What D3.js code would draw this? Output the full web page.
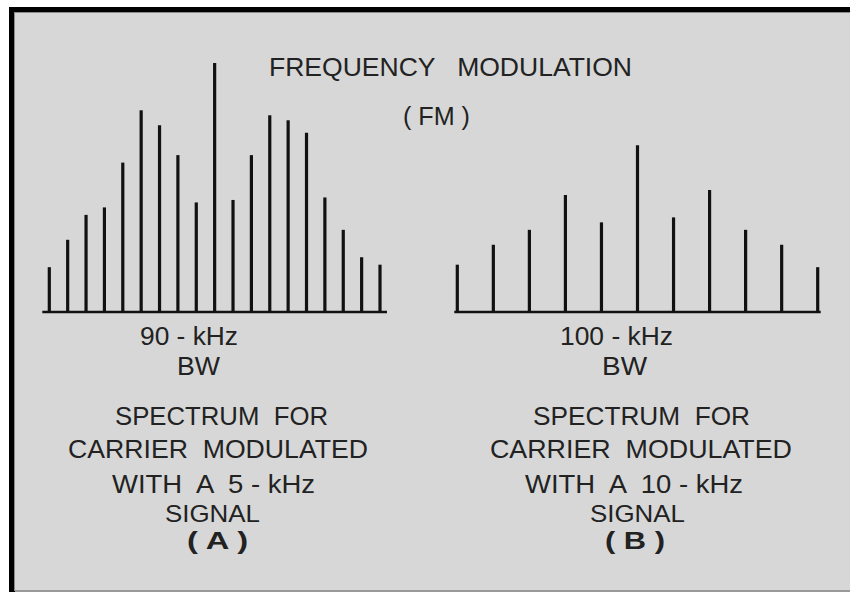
<!DOCTYPE html>
<html>
<head>
<meta charset="utf-8">
<script src="https://cdn.jsdelivr.net/npm/d3@7"></script>
<style>
  html, body { margin: 0; padding: 0; background: #ffffff; }
  svg { display: block; }
  text { white-space: pre; }
</style>
</head>
<body>
<script>
// Sideband offsets from the carrier (kHz) and relative line amplitudes
const offsetsA = [-45, -40, -35, -30, -25, -20, -15, -10, -5, 0, 5, 10, 15, 20, 25, 30, 35, 40, 45];
const amplitudesA = [18, 29, 39, 42, 60, 81, 75, 63, 44, 100, 45, 63, 79, 77, 72, 46, 33, 22, 19];

const offsetsB = [-50, -40, -30, -20, -10, 0, 10, 20, 30, 40, 50];
const amplitudesB = [19, 27, 33, 47, 36, 67, 38, 49, 33, 27, 18];

const titleLines = ["FREQUENCY   MODULATION", "( FM )"];
const captionA = ["90 - kHz", "BW", "SPECTRUM  FOR", "CARRIER  MODULATED", "WITH  A  5 - kHz", "SIGNAL", "( A )"];
const captionB = ["100 - kHz", "BW", "SPECTRUM  FOR", "CARRIER  MODULATED", "WITH  A  10 - kHz", "SIGNAL", "( B )"];

const W = 850, H = 592;
const svg = d3.select("body").append("svg").attr("width", W).attr("height", H);

// Panel background and frame
svg.append("rect").attr("x", 9).attr("y", 7).attr("width", W - 9).attr("height", H - 7).attr("fill", "#000");
svg.append("rect").attr("x", 14).attr("y", 12).attr("width", W - 14).attr("height", 579).attr("fill", "#8a8a8a");
svg.append("rect").attr("x", 15).attr("y", 13).attr("width", W - 15).attr("height", 577).attr("fill", "#d7d7d7");
svg.append("rect").attr("x", 15).attr("y", 590).attr("width", W - 15).attr("height", 2).attr("fill", "#9a9a9a");

const baseY = 312;
const y = d3.scaleLinear().domain([0, 100]).range([baseY, 63]);

function spectrum(offsets, amps, x0, x1, pad) {
  const x = d3.scaleLinear().domain(d3.extent(offsets)).range([x0, x1]);
  const g = svg.append("g");
  g.append("line")
    .attr("x1", x0 - pad).attr("x2", x1 + pad)
    .attr("y1", baseY).attr("y2", baseY)
    .attr("stroke", "#111").attr("stroke-width", 2.4);
  g.selectAll("line.bar")
    .data(offsets.map((o, i) => ({ o, a: amps[i] })))
    .join("line")
    .attr("class", "bar")
    .attr("x1", d => x(d.o)).attr("x2", d => x(d.o))
    .attr("y1", baseY).attr("y2", d => y(d.a))
    .attr("stroke", "#111").attr("stroke-width", 3.2);
}

spectrum(offsetsA, amplitudesA, 49.3, 380, 7);
spectrum(offsetsB, amplitudesB, 457.3, 817.7, 3);

function label(text, cx, baseline, width, size, bold) {
  svg.append("text")
    .attr("x", cx).attr("y", baseline)
    .attr("text-anchor", "middle")
    .attr("font-family", "'Liberation Sans', Arial, sans-serif")
    .attr("font-size", size)
    .attr("font-weight", bold ? "bold" : "normal")
    .attr("fill", "#222")
    .attr("textLength", width)
    .attr("lengthAdjust", "spacingAndGlyphs")
    .text(text);
}

// Title
label(titleLines[0], 450.5, 76, 363, 26, false);
label(titleLines[1], 436.5, 125, 67, 26, false);

// Captions under each spectrum
const baselines = [345, 375, 425, 458, 493, 522, 549];
const sizes = [26, 26, 26, 26, 26, 24, 24];
const widthsA = [98, 43, 213, 300, 203, 95, 61];
const centersA = [189, 198.5, 221.5, 218, 213.5, 212.5, 217.5];
const widthsB = [113, 45, 217, 302, 218, 95, 60];
const centersB = [616.5, 624.5, 641.5, 641, 634, 637.5, 635];

captionA.forEach((t, i) => label(t, centersA[i], baselines[i], widthsA[i], sizes[i], i === 6));
captionB.forEach((t, i) => label(t, centersB[i], baselines[i], widthsB[i], sizes[i], i === 6));
</script>
</body>
</html>
